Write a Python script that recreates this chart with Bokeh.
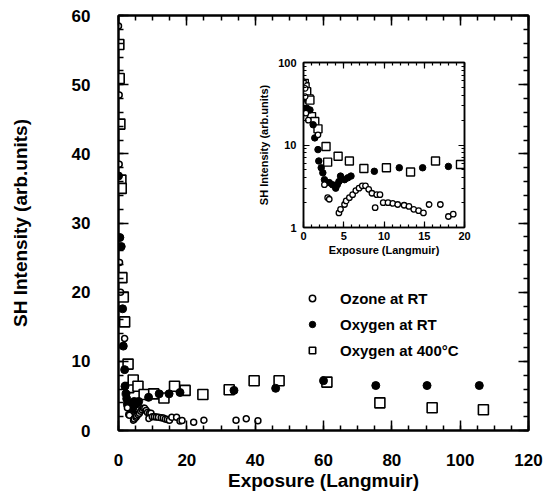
from bokeh.plotting import figure
from bokeh.models import (LinearAxis, LogAxis, SingleIntervalTicker, FixedTicker, Legend, LegendItem,
                          CustomJSTickFormatter, Range1d)
from bokeh.embed import file_html
from bokeh.resources import INLINE

# ---------------- data ----------------
# inset / low exposure data (Langmuir, arb. units)
oz_x = [0.0, 0.2, 0.2, 0.3, 0.6, 1.8, 2.6, 3.0, 3.2, 4.4, 4.6, 5.1, 5.3, 5.7, 6.1, 6.5, 6.9, 7.3, 7.7,
        8.1, 8.5, 9.1, 9.5, 8.9, 9.9, 10.5, 11.1, 11.7, 12.5, 13.1, 13.7, 14.3, 14.9, 15.6, 17.0, 18.0, 18.6]
oz_y = [58.5, 48.5, 38.5, 24.3, 20.0, 13.3, 3.3, 2.3, 2.2, 1.5, 1.66, 1.9, 2.1, 2.3, 2.5, 2.8, 3.0, 3.2, 3.2,
        2.9, 2.6, 2.5, 2.5, 1.74, 2.0, 2.0, 1.96, 1.9, 1.86, 1.8, 1.66, 1.6, 1.5, 1.9, 1.9, 1.36, 1.45]
o2_x = [0.0, 0.4, 0.8, 1.2, 1.4, 1.8, 1.9, 2.2, 2.4, 2.6, 2.8, 3.2, 3.6, 4.0, 4.2, 4.4, 4.6, 5.1, 5.5, 5.9,
        8.8, 11.9, 14.8, 18.0]
o2_y = [36.8, 27.9, 26.6, 17.6, 12.2, 8.8, 6.4, 5.3, 4.6, 3.8, 3.5, 3.5, 3.3, 3.0, 3.3, 3.6, 4.2, 3.8, 4.0, 4.2,
        4.8, 5.3, 5.3, 5.5]
hot_x = [0.1, 0.2, 0.4, 0.7, 0.8, 1.0, 1.4, 1.8, 2.8, 3.0, 4.3, 5.7, 7.5, 10.3, 13.3, 16.4, 19.5]
hot_y = [55.8, 50.9, 44.3, 36.2, 35.0, 22.1, 19.3, 15.7, 9.6, 6.2, 7.3, 6.4, 5.2, 5.3, 4.7, 6.4, 5.8]

# additional high exposure points (main panel only)
oz_x_hi = [22.0, 25.0, 34.4, 37.4, 40.8]
oz_y_hi = [1.2, 1.5, 1.5, 1.7, 1.4]
o2_x_hi = [33.8, 46.0, 60.0, 75.3, 90.3, 105.6]
o2_y_hi = [5.8, 6.1, 7.2, 6.5, 6.5, 6.5]
hot_x_hi = [24.7, 32.4, 39.7, 47.0, 61.0, 76.5, 91.8, 106.8]
hot_y_hi = [5.2, 5.9, 7.2, 7.2, 7.0, 4.0, 3.3, 3.0]

labels = ["Ozone at RT", "Oxygen at RT", "Oxygen at 400°C"]

FONT = "Liberation Sans"

# ---------------- main figure ----------------
p = figure(width=548, height=498, output_backend="svg", toolbar_location=None,
           x_range=Range1d(0, 120), y_range=Range1d(0, 60),
           min_border_left=118, min_border_right=20, min_border_top=15, min_border_bottom=68)
p.grid.visible = False
p.outline_line_color = "black"
p.outline_line_width = 2
p.background_fill_color = "white"

def style_axis(ax, show_labels=True, size="17px"):
    ax.axis_line_color = "black"
    ax.axis_line_width = 2
    ax.major_tick_in = 10
    ax.major_tick_out = 0
    ax.minor_tick_in = 5
    ax.minor_tick_out = 0
    ax.major_tick_line_width = 1.5
    ax.minor_tick_line_width = 1.5
    ax.major_label_text_font = FONT
    ax.major_label_text_font_style = "bold"
    ax.major_label_text_font_size = size
    ax.major_label_text_color = "black"
    ax.axis_label_text_font = FONT
    ax.axis_label_text_font_style = "bold"
    ax.axis_label_text_color = "black"
    if not show_labels:
        ax.formatter = CustomJSTickFormatter(code="return ''")

p.xaxis.ticker = SingleIntervalTicker(interval=20, num_minor_ticks=4)
p.yaxis.ticker = SingleIntervalTicker(interval=10, num_minor_ticks=5)
style_axis(p.xaxis[0])
style_axis(p.yaxis[0])
p.xaxis.axis_label = "Exposure (Langmuir)"
p.yaxis.axis_label = "SH Intensity (arb.units)"
p.xaxis.axis_label_text_font_size = "19px"
p.yaxis.axis_label_text_font_size = "19px"
p.xaxis.major_label_standoff = 23
p.yaxis.major_label_standoff = 28
p.xaxis.axis_label_standoff = 1
p.yaxis.axis_label_standoff = 38

top_ax = LinearAxis(ticker=SingleIntervalTicker(interval=20, num_minor_ticks=4))
right_ax = LinearAxis(ticker=SingleIntervalTicker(interval=10, num_minor_ticks=5))
style_axis(top_ax, show_labels=False)
style_axis(right_ax, show_labels=False)
p.add_layout(top_ax, "above")
p.add_layout(right_ax, "right")

r_hot = p.scatter(hot_x + hot_x_hi, hot_y + hot_y_hi, marker="square", size=10,
                  fill_color="white", line_color="black", line_width=1.6)
r_o2 = p.scatter(o2_x + o2_x_hi, o2_y + o2_y_hi, marker="circle", size=8,
                 fill_color="black", line_color="black")
r_oz = p.scatter(oz_x + oz_x_hi, oz_y + oz_y_hi, marker="circle", size=6,
                 fill_color="white", line_color="black", line_width=1.5)

legend = Legend(items=[LegendItem(label=labels[0], renderers=[r_oz]),
                       LegendItem(label=labels[1], renderers=[r_o2]),
                       LegendItem(label=labels[2], renderers=[r_hot])],
                location=(186, 70), padding=0, margin=0, spacing=6,
                label_height=20, glyph_width=16, glyph_height=16, label_standoff=20,
                background_fill_alpha=0, border_line_alpha=0,
                label_text_font=FONT, label_text_font_style="bold",
                label_text_font_size="15px", label_text_color="black")
p.add_layout(legend, "center")

# ---------------- inset figure ----------------
L, T = 252, 48
inset = figure(width=222, height=210, output_backend="svg", toolbar_location=None,
               x_range=Range1d(0, 20), y_range=Range1d(1, 100), y_axis_type="log",
               min_border_left=51, min_border_right=10, min_border_top=14, min_border_bottom=30,
               background_fill_color=None, border_fill_color=None,
               styles={"position": "absolute", "left": f"{L}px", "top": f"{T}px"})
inset.grid.visible = False
inset.outline_line_color = "black"
inset.outline_line_width = 1.5

def style_small(ax, show_labels=True):
    style_axis(ax, show_labels, size="11px")
    ax.major_tick_in = 6
    ax.minor_tick_in = 3
    ax.axis_line_width = 1.5
    ax.major_tick_line_width = 1.2
    ax.minor_tick_line_width = 1.2

inset.xaxis.ticker = SingleIntervalTicker(interval=5, num_minor_ticks=5)
inset.yaxis.ticker = FixedTicker(ticks=[1, 10, 100],
                                 minor_ticks=[2, 3, 4, 5, 6, 7, 8, 9, 20, 30, 40, 50, 60, 70, 80, 90])
style_small(inset.xaxis[0])
style_small(inset.yaxis[0])
inset.yaxis.major_label_overrides = {1: "1", 10: "10", 100: "100"}
inset.xaxis.axis_label = "Exposure (Langmuir)"
inset.yaxis.axis_label = "SH Intensity (arb.units)"
inset.xaxis.axis_label_text_font_size = "11px"
inset.yaxis.axis_label_text_font_size = "11px"
inset.xaxis.major_label_standoff = 4
inset.yaxis.major_label_standoff = 7
inset.xaxis.axis_label_standoff = 1
inset.yaxis.axis_label_standoff = 5

it = LinearAxis(ticker=SingleIntervalTicker(interval=5, num_minor_ticks=5))
ir = LogAxis(ticker=FixedTicker(ticks=[1, 10, 100],
                                minor_ticks=[2, 3, 4, 5, 6, 7, 8, 9, 20, 30, 40, 50, 60, 70, 80, 90]))
style_small(it, show_labels=False)
style_small(ir, show_labels=False)
inset.add_layout(it, "above")
inset.add_layout(ir, "right")

inset.scatter(hot_x, hot_y, marker="square", size=8, fill_color="white", line_color="black", line_width=1.4)
inset.scatter(o2_x, o2_y, marker="circle", size=6.5, fill_color="black", line_color="black")
inset.scatter(oz_x, oz_y, marker="circle", size=5.5, fill_color="white", line_color="black", line_width=1.3)

open("out.html", "w").write(file_html([p, inset], INLINE))
